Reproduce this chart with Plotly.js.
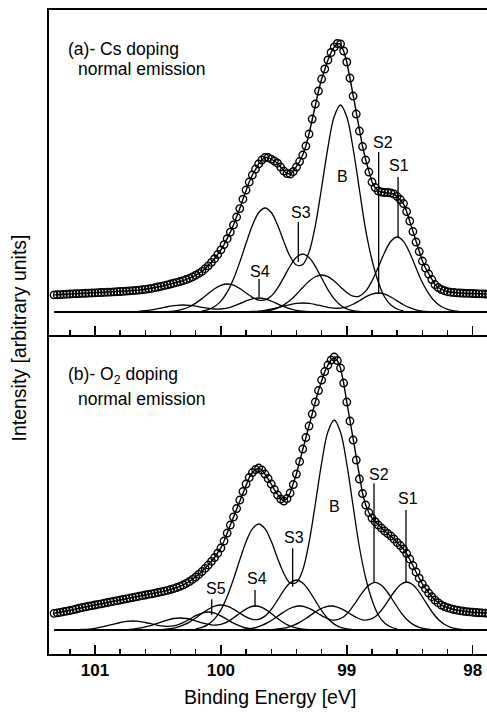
<!DOCTYPE html>
<html>
<head>
<meta charset="utf-8">
<script src="https://cdn.plot.ly/plotly-3.0.1.min.js"></script>
<style>
html,body{margin:0;padding:0;overflow:hidden;background:#fff;}
#chart{width:492px;height:713px;}
</style>
</head>
<body>
<div id="chart"></div>
<script>
// ---------------- data ----------------
// measured spectra: binding energy grid start / step (eV), intensities in arbitrary units
const energyStart = 101.325;
const energyStep = 0.025;

// (a) Cs doping, normal emission
const intensityA = [
 17.15, 17.3, 17.45, 17.6, 17.8, 18.0, 18.15, 18.3, 18.45, 18.6,
 18.75, 18.9, 19.05, 19.2, 19.35, 19.5, 19.65, 19.8, 19.95, 20.1,
 20.3, 20.5, 20.7, 20.9, 21.1, 21.4, 21.6, 21.9, 22.3, 22.7,
 23.2, 23.7, 24.3, 25.0, 25.7, 26.4, 27.2, 28.0, 28.8, 29.7,
 30.5, 31.4, 32.5, 33.7, 35.1, 36.8, 38.6, 40.7, 43.3, 46.2,
 49.6, 53.3, 57.5, 62.1, 67.4, 73.3, 79.9, 87.1, 95.0, 103.4,
 112.8, 122, 130, 137, 143, 148.1, 152, 154.5, 154.5, 152.9,
 151, 148.8, 145, 141, 138.5, 138, 140.5, 145, 150.5, 157,
 166, 178, 193, 208, 221, 233, 243, 252, 259.5, 265,
 268.5, 268, 261, 250, 234, 216, 198, 181, 165.5, 152,
 140, 130, 124.5, 121, 120, 119.5, 119.5, 119, 118, 115.5,
 112.5, 108.5, 100.5, 91, 80.5, 70, 60.5, 51, 44, 38,
 32.5, 27.5, 24.5, 22.5, 21.3, 20.3, 19.8, 19.5, 19.2, 19.0,
 18.8, 18.7, 18.6, 18.5, 18.3, 18.2, 18.1, 18.0, 18.0, 18.0
];

// (b) O2 doping, normal emission
const intensityB = [
 16.7, 17.2, 17.7, 18.3, 18.9, 19.5, 20.2, 21.0, 21.8, 22.5,
 23.2, 23.8, 24.4, 25.0, 25.6, 26.2, 26.9, 27.5, 28.2, 28.8,
 29.4, 30.0, 30.6, 31.2, 31.9, 32.5, 33.2, 33.8, 34.4, 35.0,
 35.6, 36.2, 36.8, 37.5, 38.2, 38.9, 39.7, 40.5, 41.4, 42.5,
 43.7, 45.0, 46.6, 48.5, 50.6, 53.0, 55.6, 58.5, 61.6, 65.0,
 68.6, 72.5, 76.8, 82.0, 89.0, 97.0, 105, 113, 121.5, 130,
 138.5, 146, 152.5, 157.5, 160.5, 162, 160, 156, 151.5, 146,
 140.5, 135, 131, 129, 131.5, 137, 145.5, 156, 168.5, 181,
 192.5, 204, 216, 228, 239.5, 250, 258.5, 265, 270, 273,
 269.5, 262, 247, 228, 209, 190, 170, 151, 136.5, 125,
 117.5, 112, 108.3, 105, 102, 99, 96.5, 94, 91, 87.5,
 84.5, 81, 76.5, 71, 64.5, 58, 51.8, 46, 41.3, 37,
 33.3, 30, 27.3, 25, 23.5, 22.3, 21.3, 20.5, 19.9, 19.3,
 18.8, 18.4, 18.1, 17.8, 17.5, 17.3, 17.1, 16.9, 16.7, 16.7
];

// fitted doublet components, sampled every componentStep eV from their start energy
const componentStep = 0.05;

const componentNamesA = ['B', 'S1', 'S2', 'S3', 'S4'];
const componentStartA = [100.15, 99.70, 99.85, 100.45, 100.80];
const compA_B  = [1.1, 2.5, 5.5, 10.9, 19.9, 33.0, 49.9, 68.7, 86.5, 99.3, 104.0, 99.5, 87.0, 70.4, 55.5, 47.0, 47.5, 60.0, 86.5, 124.5, 164.5, 195.5, 207.0, 195.0, 163.5, 122.5, 82.0, 52.0, 30.0, 15.0, 7.0, 3.0, 1.2];
const compA_S1 = [0.4, 0.9, 2.0, 3.9, 7.1, 11.7, 17.8, 24.5, 30.8, 35.3, 37.0, 35.4, 31.0, 25.1, 19.5, 15.8, 16.0, 20.9, 31.0, 44.9, 59.5, 70.8, 75.0, 70.7, 59.1, 44.0, 29.5, 18.5, 10.5, 5.5, 2.6, 1.1, 0.4];
const compA_S2 = [0.1, 0.2, 0.5, 0.9, 1.7, 2.9, 4.3, 5.9, 7.5, 8.6, 9.0, 8.6, 7.5, 6.1, 4.7, 3.9, 3.9, 5.2, 7.8, 11.3, 15.1, 17.9, 19.0, 17.9, 15.0, 11.1, 7.3, 4.3, 2.2, 1.0, 0.4, 0.2, 0.05];
const compA_S3 = [0.3, 0.7, 1.5, 2.9, 5.3, 8.9, 13.4, 18.5, 23.3, 26.7, 28.0, 26.8, 23.5, 19.0, 14.7, 12.0, 12.1, 16.0, 23.9, 34.7, 46.0, 54.7, 58.0, 54.6, 45.7, 34.0, 22.4, 13.1, 6.8, 3.1, 1.3, 0.5, 0.15];
const compA_S4 = [0.07, 0.17, 0.37, 0.7, 1.3, 2.2, 3.4, 4.6, 5.8, 6.7, 7.0, 6.7, 5.9, 4.7, 3.7, 3.0, 3.0, 3.9, 5.8, 8.4, 11.1, 13.2, 14.0, 13.2, 11.0, 8.2, 5.4, 3.2, 1.7, 0.8, 0.3, 0.1, 0.04];

const componentNamesB = ['B', 'S1', 'S2', 'S3', 'S4', 'S5'];
const componentStartB = [100.20, 99.625, 99.875, 100.50, 100.825, 101.20];
const compB_B  = [1.1, 2.6, 5.6, 11.1, 20.2, 33.6, 50.9, 70.1, 88.2, 101.2, 106.0, 101.4, 88.7, 71.8, 56.5, 47.0, 47.5, 60.0, 87.5, 126.0, 166.8, 198.2, 210.0, 197.8, 166.0, 124.0, 83.0, 52.0, 30.0, 15.0, 7.0, 3.0, 1.2];
const compB_S1 = [0.2, 0.6, 1.3, 2.5, 4.6, 7.6, 11.5, 15.9, 20.0, 22.9, 24.0, 23.0, 20.1, 16.3, 12.6, 10.2, 10.3, 13.3, 19.8, 28.7, 38.0, 45.3, 48.0, 45.2, 37.8, 28.1, 18.5, 10.8, 5.7, 2.6, 1.1, 0.4, 0.1];
const compB_S2 = [0.2, 0.6, 1.3, 2.5, 4.6, 7.6, 11.5, 15.9, 20.0, 22.9, 24.0, 23.0, 20.1, 16.3, 12.6, 10.2, 10.3, 13.2, 19.7, 28.5, 37.7, 44.9, 47.6, 44.8, 37.5, 27.9, 18.4, 10.7, 5.6, 2.6, 1.1, 0.4, 0.1];
const compB_S3 = [0.3, 0.6, 1.3, 2.6, 4.8, 7.9, 12.0, 16.5, 20.8, 23.9, 25.0, 23.9, 20.9, 16.9, 13.1, 10.6, 10.7, 13.9, 20.6, 29.9, 39.7, 47.2, 50.0, 47.1, 39.4, 29.3, 19.3, 11.3, 5.9, 2.7, 1.1, 0.4, 0.1];
const compB_S4 = [0.1, 0.3, 0.6, 1.3, 2.3, 3.8, 5.8, 7.9, 10.0, 11.5, 12.0, 11.5, 10.1, 8.1, 6.3, 5.1, 5.1, 6.7, 9.9, 14.4, 19.0, 22.6, 24.0, 22.6, 18.9, 14.1, 9.3, 5.4, 2.8, 1.3, 0.5, 0.2, 0.06];
const compB_S5 = [0.09, 0.2, 0.5, 0.9, 1.7, 2.9, 4.3, 5.9, 7.5, 8.6, 9.0, 8.6, 7.5, 6.1, 4.7, 3.9, 3.8, 5.0, 7.4, 10.7, 14.3, 17.0, 18.0, 17.0, 14.2, 10.5, 6.9, 4.1, 2.1, 1.0, 0.4, 0.15, 0.05];

const baselineLevel = 0;

const tickValues = [101, 100, 99, 98];
const tickLabels = ['101', '100', '99', '98'];

// ---------------- build traces ----------------
function grid(start, step, n) {
  const out = [];
  for (let i = 0; i < n; i++) out.push(+(start - i * step).toFixed(4));
  return out;
}
const energyA = grid(energyStart, energyStep, intensityA.length);
const energyB = grid(energyStart, energyStep, intensityB.length);

const compLine = {color: '#000', width: 1.3, shape: 'spline'};
const traces = [];

const compsA = [compA_B, compA_S1, compA_S2, compA_S3, compA_S4];
compsA.forEach((vals, k) => {
  traces.push({type: 'scatter', mode: 'lines', name: '(a) ' + componentNamesA[k],
    x: grid(componentStartA[k], componentStep, vals.length), y: vals,
    xaxis: 'x2', yaxis: 'y2', line: compLine});
});
const compsB = [compB_B, compB_S1, compB_S2, compB_S3, compB_S4, compB_S5];
compsB.forEach((vals, k) => {
  traces.push({type: 'scatter', mode: 'lines', name: '(b) ' + componentNamesB[k],
    x: grid(componentStartB[k], componentStep, vals.length), y: vals,
    xaxis: 'x', yaxis: 'y', line: compLine});
});

// baselines
traces.push({type: 'scatter', mode: 'lines', x: energyA, y: energyA.map(() => baselineLevel),
  xaxis: 'x2', yaxis: 'y2', line: {color: '#000', width: 2}});
traces.push({type: 'scatter', mode: 'lines', x: energyB, y: energyB.map(() => baselineLevel),
  xaxis: 'x', yaxis: 'y', line: {color: '#000', width: 2}});

// measured data (open circles) + fitted envelope
const dataMarker = {symbol: 'circle-open', size: 7.5, color: '#000', line: {width: 1.35, color: '#000'}};
traces.push({type: 'scatter', mode: 'lines+markers', name: '(a) data', x: energyA, y: intensityA,
  xaxis: 'x2', yaxis: 'y2', line: {color: '#000', width: 1.4}, marker: dataMarker});
traces.push({type: 'scatter', mode: 'lines+markers', name: '(b) data', x: energyB, y: intensityB,
  xaxis: 'x', yaxis: 'y', line: {color: '#000', width: 1.4}, marker: dataMarker});

// ---------------- layout ----------------
const FONT = '"Liberation Sans", Arial, Helvetica, sans-serif';
const xRange = [101.365, 97.847];
const split = 0.4953;

function xAxisBase() {
  return {
    range: xRange, autorange: false, showline: true, linewidth: 2, linecolor: '#000',
    ticks: 'inside', ticklen: 9, tickwidth: 1.5, tickcolor: '#000',
    tickmode: 'array', tickvals: tickValues, ticktext: tickLabels,
    showgrid: false, zeroline: false,
    minor: {ticks: 'inside', ticklen: 5, tickwidth: 1.5, tickcolor: '#000', dtick: 0.2, tick0: 0, showgrid: false}
  };
}
const xaxis = Object.assign(xAxisBase(), {
  anchor: 'y', domain: [0, 1],
  tickfont: {family: FONT, size: 17, color: '#000', weight: 'bold'}
});
const xaxis2 = Object.assign(xAxisBase(), {
  anchor: 'y2', domain: [0, 1], showticklabels: false, mirror: true
});
function yAxisBase() {
  return {showline: true, linewidth: 2, linecolor: '#000', ticks: '', showticklabels: false,
    showgrid: false, zeroline: false, autorange: false};
}
const yaxis = Object.assign(yAxisBase(), {domain: [0, split], range: [-24, 295], anchor: 'x'});
const yaxis2 = Object.assign(yAxisBase(), {domain: [split, 1], range: [-23, 302], anchor: 'x2'});

const lblFont = {family: FONT, size: 16, color: '#000'};
const txtFont = {family: FONT, size: 17.5, color: '#000'};
function lbl(text, x, y, xr, yr) {
  return {text: text, x: x, y: y, xref: xr, yref: yr, showarrow: false, font: lblFont,
    xanchor: 'center', yanchor: 'middle'};
}
function note(text, px, py) {
  return {text: text, x: (px - 49) / 443, y: (654 - py) / 644, xref: 'paper', yref: 'paper',
    showarrow: false, font: txtFont, xanchor: 'left', yanchor: 'middle', borderpad: 0};
}
const annotations = [
  note('(a)- Cs doping', 67, 49),
  note('normal emission', 77, 68.5),
  note('(b)- O<sub>2</sub> doping', 67, 375.5),
  note('normal emission', 77, 398.5),
  // panel (a) labels
  lbl('S1', 98.585, 146.5, 'x2', 'y2'),
  lbl('S2', 98.709, 170, 'x2', 'y2'),
  lbl('B', 99.034, 136, 'x2', 'y2'),
  lbl('S3', 99.365, 99.5, 'x2', 'y2'),
  lbl('S4', 99.686, 41, 'x2', 'y2'),
  // panel (b) labels
  lbl('S1', 98.511, 131.7, 'x', 'y'),
  lbl('S2', 98.743, 155.8, 'x', 'y'),
  lbl('B', 99.094, 123.3, 'x', 'y'),
  lbl('S3', 99.422, 92.5, 'x', 'y'),
  lbl('S4', 99.716, 51.7, 'x', 'y'),
  lbl('S5', 100.040, 41.2, 'x', 'y'),
  // axis titles
  {text: 'Binding Energy [eV]', x: (270 - 49) / 443, y: (654 - 697) / 644,
    xref: 'paper', yref: 'paper', showarrow: false,
    font: {family: FONT, size: 19.5, color: '#000'}, xanchor: 'center', yanchor: 'middle'},
  {text: 'Intensity [arbitrary units]', x: (18.5 - 49) / 443, y: (654 - 338) / 644,
    xref: 'paper', yref: 'paper', showarrow: false, textangle: -90,
    font: {family: FONT, size: 19.5, color: '#000'}, xanchor: 'center', yanchor: 'middle'}
];

function stick(x, y0, y1, xr, yr) {
  return {type: 'line', x0: x, x1: x, y0: y0, y1: y1, xref: xr, yref: yr,
    line: {color: '#000', width: 1.3}};
}
const shapes = [
  stick(98.593, 75, 135, 'x2', 'y2'),
  stick(98.747, 18, 160, 'x2', 'y2'),
  stick(99.385, 50, 90, 'x2', 'y2'),
  stick(99.697, 15, 33, 'x2', 'y2'),
  stick(98.530, 47.3, 120, 'x', 'y'),
  stick(98.784, 47.3, 146.7, 'x', 'y'),
  stick(99.430, 43.3, 81.7, 'x', 'y'),
  stick(99.729, 23.3, 40, 'x', 'y'),
  stick(100.073, 15, 30.7, 'x', 'y')
];

const layout = {
  width: 492, height: 713,
  margin: {l: 49, r: 0, t: 10, b: 59, pad: 0},
  paper_bgcolor: '#fff', plot_bgcolor: '#fff',
  showlegend: false, hovermode: false,
  font: {family: FONT, color: '#000'},
  xaxis: xaxis, xaxis2: xaxis2, yaxis: yaxis, yaxis2: yaxis2,
  annotations: annotations, shapes: shapes
};

Plotly.newPlot('chart', traces, layout, {staticPlot: true, responsive: false, displayModeBar: false});
</script>
</body>
</html>
